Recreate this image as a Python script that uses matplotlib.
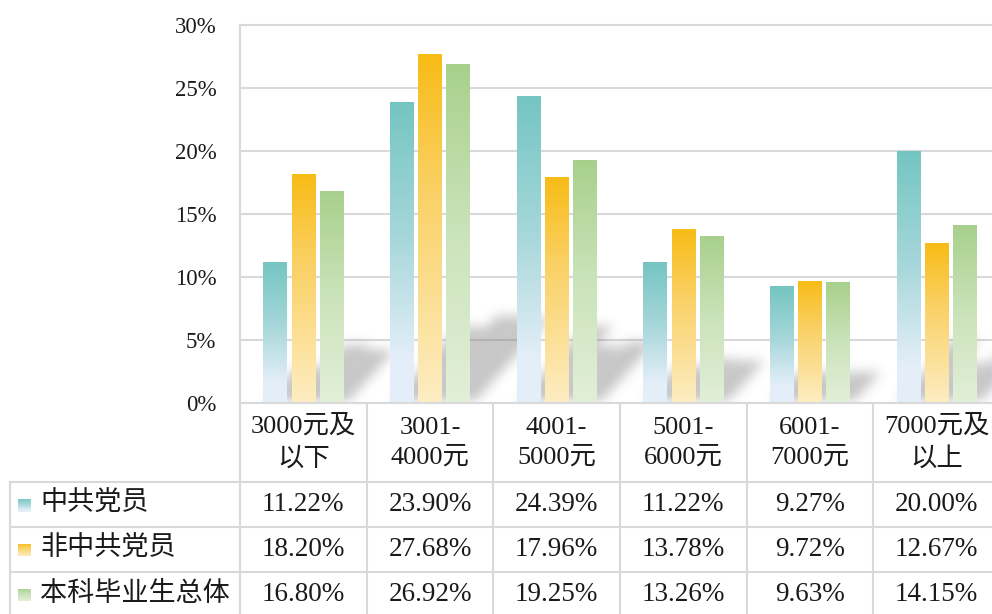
import numpy as np
import matplotlib
matplotlib.use('Agg')
import matplotlib.pyplot as plt
from matplotlib.colors import LinearSegmentedColormap
from matplotlib.path import Path
from matplotlib.lines import Line2D

# ── DATA ──────────────────────────────────────────────────────────────────────
categories = ['3000元及\n以下', '3001-\n4000元', '4001-\n5000元',
              '5001-\n6000元', '6001-\n7000元', '7000元及\n以上']
series_names = ['中共党员', '非中共党员', '本科毕业生总体']
party     = [11.22, 23.90, 24.39, 11.22, 9.27, 20.00]
non_party = [18.20, 27.68, 17.96, 13.78, 9.72, 12.67]
overall   = [16.80, 26.92, 19.25, 13.26, 9.63, 14.15]
yticks    = [0, 5, 10, 15, 20, 25, 30]

# ── STYLE ─────────────────────────────────────────────────────────────────────
W, H = 992, 614
FONT = ['Liberation Serif', 'Noto Sans CJK SC', 'DejaVu Sans']
LINE = '#D9D9D9'
TXT = '#1a1a1a'
gradients = [
    [(0.0, '#74C5C2'), (0.45, '#A6D7DA'), (0.85, '#E3EEF8'), (1.0, '#E5EFF8')],
    [(0.0, '#F8BC16'), (0.4, '#FAD166'), (1.0, '#FDEDC3')],
    [(0.0, '#A8D08C'), (0.5, '#CBE3BA'), (1.0, '#E2EFD9')],
]
cmaps = [LinearSegmentedColormap.from_list(f'g{i}', g) for i, g in enumerate(gradients)]
grad = np.linspace(0, 1, 256).reshape(-1, 1)

BAR_W = 0.185
OFFS = [-0.222, 0.0, 0.222]


def fx(px):
    return px / W


def fy(py):
    return 1 - py / H


def box_blur(a, r):
    k = np.ones(2 * r + 1) / (2 * r + 1)
    a = np.apply_along_axis(lambda m: np.convolve(m, k, mode='same'), 0, a)
    a = np.apply_along_axis(lambda m: np.convolve(m, k, mode='same'), 1, a)
    return a


fig = plt.figure(figsize=(W / 100, H / 100), dpi=100)
fig.patch.set_facecolor('white')

# plot area: x 240 → 1000 px (runs past the right edge), y 25 → 403 px
ax = fig.add_axes([fx(240), fy(403), 760 / W, 378 / H])
ax.set_axisbelow(True)

all_series = [party, non_party, overall]
x = np.arange(len(categories))

# ── soft diagonal shadows behind each group ──────────────────────────────────
xs = np.linspace(-0.5, 5.5, 760)
ys = np.linspace(0, 30, 378)
gx, gy = np.meshgrid(xs, ys)
pts = np.column_stack([gx.ravel(), gy.ravel()])
mask = np.zeros(gx.size)
for vals, off in zip(all_series, OFFS):
    for xi, v in zip(x, vals):
        sh = 0.25 * v
        dx = 0.09 * sh
        x0 = xi + off - BAR_W / 2
        x1 = xi + off + BAR_W / 2 + 0.03
        poly = Path([(x0, 0), (x1, 0), (x1 + dx, sh), (x0 + dx, sh), (x0, 0)])
        mask = np.maximum(mask, poly.contains_points(pts).astype(float))
mask = mask.reshape(gx.shape)
mask = box_blur(box_blur(box_blur(mask, 5), 5), 5)
shadow = np.zeros(mask.shape + (4,))
shadow[..., :3] = 0.45
shadow[..., 3] = mask * 0.4
ax.imshow(shadow, origin='lower', extent=[-0.5, 5.5, 0, 30],
          aspect='auto', zorder=1, interpolation='bilinear')

# ── gradient bars ────────────────────────────────────────────────────────────
for vals, off, cm in zip(all_series, OFFS, cmaps):
    bars = ax.bar(x + off, vals, width=BAR_W, color='none', linewidth=0, zorder=3)
    for rect in bars:
        x0, w, h = rect.get_x(), rect.get_width(), rect.get_height()
        im = ax.imshow(grad, cmap=cm, extent=[x0, x0 + w, 0, h],
                       aspect='auto', zorder=3, interpolation='bilinear')
        im.set_clip_path(rect)

ax.set_xlim(-0.5, 5.5)
ax.set_ylim(0, 30)
ax.set_yticks(yticks)
ax.set_yticklabels([f'{t}%' for t in yticks], fontsize=16.5, family=FONT, color=TXT)
ax.set_xticks([])
ax.tick_params(axis='y', length=0, pad=17)
ax.yaxis.grid(True, color=LINE, linewidth=1.5)
for s in ['top', 'right', 'bottom']:
    ax.spines[s].set_visible(False)
ax.spines['left'].set_color(LINE)
ax.spines['left'].set_linewidth(1.5)
ax.axhline(30, color=LINE, linewidth=1.5, clip_on=False, zorder=0.5)

# ── data table underneath ────────────────────────────────────────────────────
col_w = 760 / len(categories)
col_x = [240 + i * col_w for i in range(len(categories) + 1)]
row_y = [403, 482, 527, 572, 617]


def hline(py, x0, x1):
    fig.add_artist(Line2D([fx(x0), fx(x1)], [fy(py), fy(py)],
                          color=LINE, linewidth=1.5, transform=fig.transFigure))


def vline(px, y0, y1):
    fig.add_artist(Line2D([fx(px), fx(px)], [fy(y0), fy(y1)],
                          color=LINE, linewidth=1.5, transform=fig.transFigure))


for py in row_y[1:]:
    hline(py, 10, 1000)
hline(403, 240, 1000)
vline(10, 482, 620)
for px in col_x:
    vline(px, 403, 620)

# header
for i, cat in enumerate(categories):
    cx = (col_x[i] + col_x[i + 1]) / 2
    fig.text(fx(cx), fy(443), cat, ha='center', va='center', fontsize=19,
             family=FONT, color=TXT, linespacing=1.45)

# rows
for r, (name, vals, cm) in enumerate(zip(series_names, all_series, cmaps)):
    cy = (row_y[r + 1] + row_y[r + 2]) / 2
    key = fig.add_axes([fx(18), fy(cy + 7), 13 / W, 13 / H])
    key.imshow(grad, cmap=cm, aspect='auto')
    key.axis('off')
    fig.text(fx(40), fy(cy), name, ha='left', va='center', fontsize=19.5,
             family=FONT, color=TXT)
    for i, v in enumerate(vals):
        cx = (col_x[i] + col_x[i + 1]) / 2
        fig.text(fx(cx), fy(cy), f'{v:.2f}%', ha='center', va='center',
                 fontsize=19.5, family=FONT, color=TXT)

fig.savefig('out.png', dpi=100, facecolor='white')
